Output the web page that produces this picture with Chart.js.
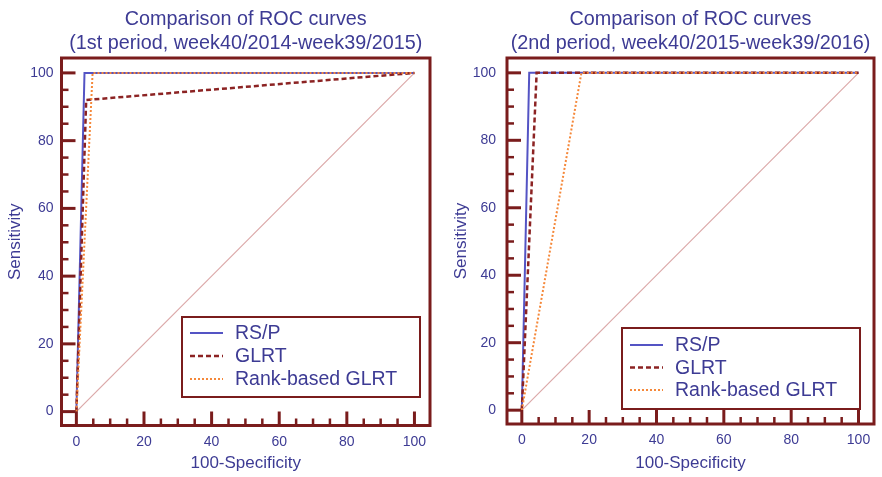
<!DOCTYPE html>
<html>
<head>
<meta charset="utf-8">
<script src="https://cdn.jsdelivr.net/npm/chart.js@4.4.1/dist/chart.umd.min.js"></script>
<style>
  html, body { margin: 0; padding: 0; background: #ffffff; }
  #wrap { position: relative; width: 882px; height: 477px; }
  canvas { position: absolute; top: 0; }
  #c1 { left: 0; }
  #c2 { left: 441px; }
</style>
</head>
<body>
<div id="wrap">
  <canvas id="c1" width="441" height="477"></canvas>
  <canvas id="c2" width="441" height="477"></canvas>
</div>
<script>
// Axis tick values (both axes, both panels)
const majorTicks = [0, 20, 40, 60, 80, 100];
const minorStep = 5;

// 1st period, week40/2014-week39/2015 : (100-Specificity, Sensitivity)
const p1RspX  = [0, 2.4, 100];
const p1RspY  = [0, 100, 100];
const p1GlrtX = [0, 2.9, 100];
const p1GlrtY = [0, 92, 100];
const p1RankX = [0, 4.8, 100];
const p1RankY = [0, 100, 100];

// 2nd period, week40/2015-week39/2016
const p2RspX  = [0, 2.2, 100];
const p2RspY  = [0, 100, 100];
const p2GlrtX = [0, 4.4, 100];
const p2GlrtY = [0, 100, 100];
const p2RankX = [0, 17.7, 100];
const p2RankY = [0, 100, 100];

// Chance line
const diagX = [0, 100];
const diagY = [0, 100];

const seriesNames = ['RS/P', 'GLRT', 'Rank-based GLRT'];
const title1 = ['Comparison of ROC curves', '(1st period, week40/2014-week39/2015)'];
const title2 = ['Comparison of ROC curves', '(2nd period, week40/2015-week39/2016)'];
const xTitle = '100-Specificity';
const yTitle = 'Sensitivity';

const TEXT = '#3d3b94';
const MAROON = '#7a1c1c';
const FONT = '"Liberation Sans", Arial, sans-serif';

const pts = (xs, ys) => xs.map((x, i) => ({ x: x, y: ys[i] }));

// Frame, inward tick marks and boxed legend
const framePlugin = {
  id: 'frameTicks',
  afterDatasetsDraw(chart, args, opts) {
    const { ctx, chartArea: a } = chart;
    const xs = chart.scales.x, ys = chart.scales.y;
    ctx.save();
    ctx.strokeStyle = MAROON;
    ctx.lineCap = 'butt';
    for (let v = majorTicks[0]; v <= majorTicks[majorTicks.length - 1]; v += minorStep) {
      const major = majorTicks.includes(v);
      const len = major ? 14 : 7;
      ctx.lineWidth = major ? 3 : 2.5;
      const px = xs.getPixelForValue(v);
      ctx.beginPath(); ctx.moveTo(px, a.bottom); ctx.lineTo(px, a.bottom - len); ctx.stroke();
      const py = ys.getPixelForValue(v);
      ctx.beginPath(); ctx.moveTo(a.left, py); ctx.lineTo(a.left + len, py); ctx.stroke();
    }
    ctx.lineWidth = 3;
    ctx.strokeRect(a.left, a.top, a.right - a.left, a.bottom - a.top);

    // legend
    const b = opts.box;
    ctx.lineWidth = 2;
    ctx.fillStyle = '#ffffff';
    ctx.fillRect(b.x, b.y, b.w, b.h);
    ctx.strokeRect(b.x, b.y, b.w, b.h);
    ctx.font = '19.5px ' + FONT;
    ctx.textBaseline = 'middle';
    ctx.textAlign = 'left';
    let row = 0;
    chart.data.datasets.forEach(ds => {
      if (!ds.label) return;
      const yy = b.y + b.first + row * b.step;
      ctx.save();
      ctx.strokeStyle = ds.borderColor;
      ctx.lineWidth = ds.borderWidth;
      ctx.setLineDash(ds.borderDash || []);
      ctx.beginPath(); ctx.moveTo(b.x + 8, yy); ctx.lineTo(b.x + 41, yy); ctx.stroke();
      ctx.restore();
      ctx.fillStyle = TEXT;
      ctx.fillText(ds.label, b.x + 53, yy + 1);
      row++;
    });
    ctx.restore();
  }
};

function makeChart(id, titleLines, s, o) {
  return new Chart(document.getElementById(id), {
    type: 'scatter',
    data: {
      datasets: [
        { label: '', data: pts(diagX, diagY), borderColor: '#dba8a8', borderWidth: 1.2, order: 4 },
        { label: seriesNames[0], data: pts(s.rspX, s.rspY), borderColor: '#5454c4', borderWidth: 2, order: 3 },
        { label: seriesNames[1], data: pts(s.glrtX, s.glrtY), borderColor: '#8c2323', borderWidth: 2.5, borderDash: [5, 3], order: 2 },
        { label: seriesNames[2], data: pts(s.rankX, s.rankY), borderColor: '#f5883a', borderWidth: 2, borderDash: [2, 2], order: 1 }
      ].map(d => Object.assign({ showLine: true, pointRadius: 0, pointHoverRadius: 0, tension: 0, fill: false }, d))
    },
    options: {
      responsive: false,
      animation: false,
      events: [],
      layout: { padding: { left: 0, right: o.padRight, top: 0, bottom: 0 } },
      plugins: {
        legend: { display: false },
        tooltip: { enabled: false },
        title: {
          display: true,
          fullSize: false,
          text: titleLines,
          color: TEXT,
          font: { family: FONT, size: 19.8, weight: 'normal', lineHeight: 24 / 19.8 },
          padding: { top: 8, bottom: 2 }
        },
        frameTicks: { box: o.box }
      },
      scales: {
        x: {
          type: 'linear',
          min: -4.4, max: 104.6,
          grid: { display: false, drawTicks: false },
          border: { display: false },
          afterBuildTicks: sc => { sc.ticks = majorTicks.map(v => ({ value: v })); },
          afterFit: sc => { sc.height = 477 - o.areaBottom; },
          ticks: { color: TEXT, font: { family: FONT, size: 14 }, padding: 8, maxRotation: 0, autoSkip: false },
          title: { display: true, text: xTitle, color: TEXT, font: { family: FONT, size: 17 }, padding: { top: 0, bottom: 3 } }
        },
        y: {
          type: 'linear',
          min: -4.1, max: 104.4,
          grid: { display: false, drawTicks: false },
          border: { display: false },
          afterBuildTicks: sc => { sc.ticks = majorTicks.map(v => ({ value: v })); },
          afterFit: sc => { sc.width = o.areaLeft; },
          ticks: { color: TEXT, font: { family: FONT, size: 14 }, padding: o.tickPad, autoSkip: false },
          title: { display: true, text: yTitle, color: TEXT, font: { family: FONT, size: 17 }, padding: { top: o.titlePad, bottom: 0 } }
        }
      }
    },
    plugins: [framePlugin]
  });
}

makeChart('c1', title1,
  { rspX: p1RspX, rspY: p1RspY, glrtX: p1GlrtX, glrtY: p1GlrtY, rankX: p1RankX, rankY: p1RankY },
  { areaLeft: 61.5, padRight: 11, areaBottom: 425.5, tickPad: 8, titlePad: 5,
    box: { x: 182, y: 317, w: 238, h: 80, first: 16, step: 23 } });

makeChart('c2', title2,
  { rspX: p2RspX, rspY: p2RspY, glrtX: p2GlrtX, glrtY: p2GlrtY, rankX: p2RankX, rankY: p2RankY },
  { areaLeft: 66, padRight: 8, areaBottom: 424, tickPad: 11, titlePad: 10,
    box: { x: 181, y: 328, w: 238, h: 81, first: 17, step: 22.5 } });
</script>
</body>
</html>
